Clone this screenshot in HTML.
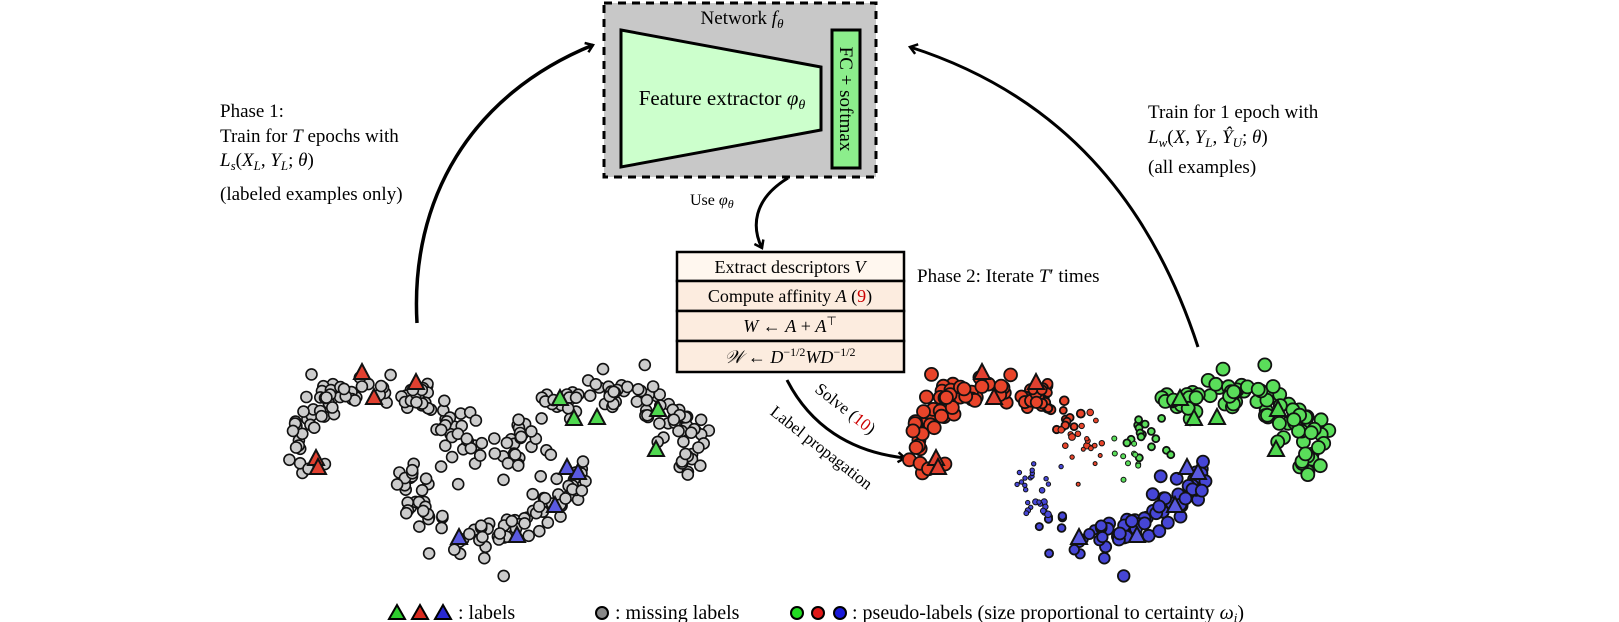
<!DOCTYPE html>
<html><head><meta charset="utf-8"><style>
html,body{margin:0;padding:0;background:#fff;}
svg{display:block;font-family:"Liberation Serif",serif;}
</style></head><body>
<svg id="s" width="1619" height="622" viewBox="0 0 1619 622" xmlns="http://www.w3.org/2000/svg">
<defs>
<marker id="ah" markerWidth="12" markerHeight="12" refX="9" refY="6" orient="auto" markerUnits="userSpaceOnUse">
<path d="M2,1 L9,6 L2,11" fill="none" stroke="#000" stroke-width="2.5"/>
</marker>
</defs>
<rect x="604" y="3" width="272" height="174" fill="#c8c8c8" stroke="#000" stroke-width="3" stroke-dasharray="8,6"/>
<polygon points="621,30 821,67 821,130 621,167" fill="#ccffcc" stroke="#000" stroke-width="3"/>
<rect x="832" y="30" width="28" height="138" fill="#8cee8c" stroke="#000" stroke-width="3"/>
<text x="742" y="24" font-size="19" text-anchor="middle">Network <tspan font-style="italic">f</tspan><tspan font-style="italic" font-size="13" dy="4">θ</tspan></text>
<text x="722" y="105" font-size="21" text-anchor="middle">Feature extractor <tspan font-style="italic">φ</tspan><tspan font-style="italic" font-size="14" dy="4">θ</tspan></text>
<text x="0" y="0" font-size="19" text-anchor="middle" transform="translate(840,99) rotate(90)">FC + softmax</text>
<path d="M788,178 C752,200 752,228 762,248" fill="none" stroke="#000" stroke-width="3" marker-end="url(#ah)"/>
<text x="690" y="205" font-size="16">Use <tspan font-style="italic">φ</tspan><tspan font-style="italic" font-size="12" dy="3">θ</tspan></text>
<rect x="677" y="252" width="227" height="29" fill="#fff7ef" stroke="#000" stroke-width="2.5"/>
<rect x="677" y="281" width="227" height="30" fill="#fcecdf" stroke="#000" stroke-width="2.5"/>
<rect x="677" y="311" width="227" height="30" fill="#fcecdf" stroke="#000" stroke-width="2.5"/>
<rect x="677" y="341" width="227" height="31" fill="#fcecdf" stroke="#000" stroke-width="2.5"/>
<text x="790" y="273" font-size="18" text-anchor="middle">Extract descriptors <tspan font-style="italic">V</tspan></text>
<text x="790" y="302" font-size="18" text-anchor="middle">Compute affinity <tspan font-style="italic">A</tspan> (<tspan fill="#c00">9</tspan>)</text>
<text x="790" y="332" font-size="18" text-anchor="middle"><tspan font-style="italic">W</tspan>  ←  <tspan font-style="italic">A</tspan> + <tspan font-style="italic">A</tspan><tspan font-size="12" dy="-7">⊤</tspan></text>
<text x="790" y="363" font-size="18" text-anchor="middle"><tspan font-style="italic">𝒲</tspan> ← <tspan font-style="italic">D</tspan><tspan font-size="12" dy="-7">−1/2</tspan><tspan font-style="italic" dy="7">WD</tspan><tspan font-size="12" dy="-7">−1/2</tspan></text>
<path d="M787,380 C810,425 850,452 905,458" fill="none" stroke="#000" stroke-width="3" marker-end="url(#ah)"/>
<text x="0" y="0" font-size="17" text-anchor="middle" transform="translate(842,413) rotate(38)">Solve (<tspan fill="#c00">10</tspan>)</text>
<text x="0" y="0" font-size="17" text-anchor="middle" transform="translate(818,452) rotate(38)">Label propagation</text>
<path d="M417,323 C410,200 470,95 593,45" fill="none" stroke="#000" stroke-width="3.5" marker-end="url(#ah)"/>
<path d="M1198,347 C1150,200 1060,95 910,47" fill="none" stroke="#000" stroke-width="3" marker-end="url(#ah)"/>
<g font-size="19">
<text x="220" y="117">Phase 1:</text>
<text x="220" y="142">Train for <tspan font-style="italic">T</tspan> epochs with</text>
<text x="220" y="166"><tspan font-style="italic">L</tspan><tspan font-style="italic" font-size="13" dy="4">s</tspan><tspan dy="-4">(</tspan><tspan font-style="italic">X</tspan><tspan font-style="italic" font-size="13" dy="4">L</tspan><tspan dy="-4">, </tspan><tspan font-style="italic">Y</tspan><tspan font-style="italic" font-size="13" dy="4">L</tspan><tspan dy="-4">; </tspan><tspan font-style="italic">θ</tspan>)</text>
<text x="220" y="200">(labeled examples only)</text>
<text x="1148" y="118">Train for 1 epoch with</text>
<text x="1148" y="143"><tspan font-style="italic">L</tspan><tspan font-style="italic" font-size="13" dy="4">w</tspan><tspan dy="-4">(</tspan><tspan font-style="italic">X</tspan>, <tspan font-style="italic">Y</tspan><tspan font-style="italic" font-size="13" dy="4">L</tspan><tspan dy="-4">, </tspan><tspan font-style="italic">Ŷ</tspan><tspan font-style="italic" font-size="13" dy="4">U</tspan><tspan dy="-4">; </tspan><tspan font-style="italic">θ</tspan>)</text>
<text x="1148" y="173">(all examples)</text>
<text x="917" y="282">Phase 2: Iterate <tspan font-style="italic">T</tspan>′ times</text>
</g>
<g id="pts"></g>
<g stroke="#000" stroke-width="2">
<polygon points="389,619 397,605 405,619" fill="#2ecc2e"/>
<polygon points="412,619 420,605 428,619" fill="#d82a1e"/>
<polygon points="435,619 443,605 451,619" fill="#2828d0"/>
<circle cx="602" cy="613" r="6" fill="#888"/>
<circle cx="797" cy="613" r="6" fill="#22dd22"/>
<circle cx="818" cy="613" r="6" fill="#e01818"/>
<circle cx="840" cy="613" r="6" fill="#1818d8"/>
</g>
<g font-size="20">
<text x="458" y="619">: labels</text>
<text x="615" y="619">: missing labels</text>
<text x="852" y="619">: pseudo-labels (size proportional to certainty <tspan font-style="italic">ω</tspan><tspan font-style="italic" font-size="13" dy="3">i</tspan><tspan dy="-3">)</tspan></text>
</g>
</svg>
<script>
(function(){
var seed=12345;function rnd(){seed=(seed*1103515245+12345)%2147483648;return seed/2147483648;}
function gauss(){var u=rnd()||1e-6,v=rnd();return Math.sqrt(-2*Math.log(u))*Math.cos(2*Math.PI*v);}
var red=[[290,470],[290,430],[313,397],[337,387],[363,387],[387,403],[403,403],[427,397],[443,417],[463,440],[477,463]];
var blue=[[407,460],[407,500],[427,517],[457,540],[497,533],[523,527],[553,507],[577,480],[580,460]];
var green=[[510,467],[517,433],[543,420],[570,407],[590,390],[623,393],[657,397],[690,420],[705,440],[690,470]];
function T(x,y){return [500+(x-500)*0.955, y];}
function samp(pl,t){var L=[0],i;for(i=1;i<pl.length;i++){L.push(L[i-1]+Math.hypot(pl[i][0]-pl[i-1][0],pl[i][1]-pl[i-1][1]));}
var d=t*L[L.length-1];for(i=1;i<pl.length;i++){if(d<=L[i]){var f=(d-L[i-1])/(L[i]-L[i-1]||1);return [pl[i-1][0]+f*(pl[i][0]-pl[i-1][0]),pl[i-1][1]+f*(pl[i][1]-pl[i-1][1])];}}return pl[pl.length-1];}
var g=document.getElementById('pts'),out='';
function circ(x,y,r,f,sw){out+='<circle cx="'+x.toFixed(1)+'" cy="'+y.toFixed(1)+'" r="'+r+'" fill="'+f+'" stroke="#111" stroke-width="'+sw+'"/>';}
function tri(x,y,f){out+='<polygon points="'+(x-8)+','+(y+7)+' '+x+','+(y-8)+' '+(x+8)+','+(y+7)+'" fill="'+f+'" stroke="#111" stroke-width="2"/>';}
var classes=[[red,110,'#e8442a',function(t){return t<0.55?6.5:Math.max(2,6.5-(t-0.55)*11);}],
[blue,105,'#4646d6',function(t){return t<0.12?2.2:Math.min(6,2.2+(t-0.12)*9);}],
[green,115,'#5ade5a',function(t){return t<0.1?2.5:(t<0.3?3.5:6.5);}]];
var OFF=620;
classes.forEach(function(c){for(var k=0;k<c[1];k++){var t=rnd();var p=samp(c[0],t);var sd=8+(rnd()<0.15?10:0);
var q=T(p[0]+gauss()*sd,p[1]+gauss()*sd);var x=q[0],y=q[1];
circ(x,y,5.5,'#cccccc',1.6);
var r=c[3](t);circ(x+OFF,y,r.toFixed(1),c[2],r<3.5?1:1.8);}});
var tr=[[356,372,'#e04030'],[412,382,'#e04030'],[368,397,'#e04030'],[307,458,'#e04030'],[309,467,'#e04030'],
[563,398,'#4fd84f'],[578,418,'#4fd84f'],[602,417,'#4fd84f'],[665,409,'#4fd84f'],[663,449,'#4fd84f'],
[570,467,'#5a5ae0'],[582,472,'#5a5ae0'],[558,505,'#5a5ae0'],[518,535,'#5a5ae0'],[457,537,'#5a5ae0']];
tr.forEach(function(a){var q=T(a[0],a[1]);tri(Math.round(q[0]),Math.round(q[1]),a[2]);tri(Math.round(q[0])+OFF,Math.round(q[1]),a[2]);});
g.innerHTML=out;
})();
</script>
</body></html>
